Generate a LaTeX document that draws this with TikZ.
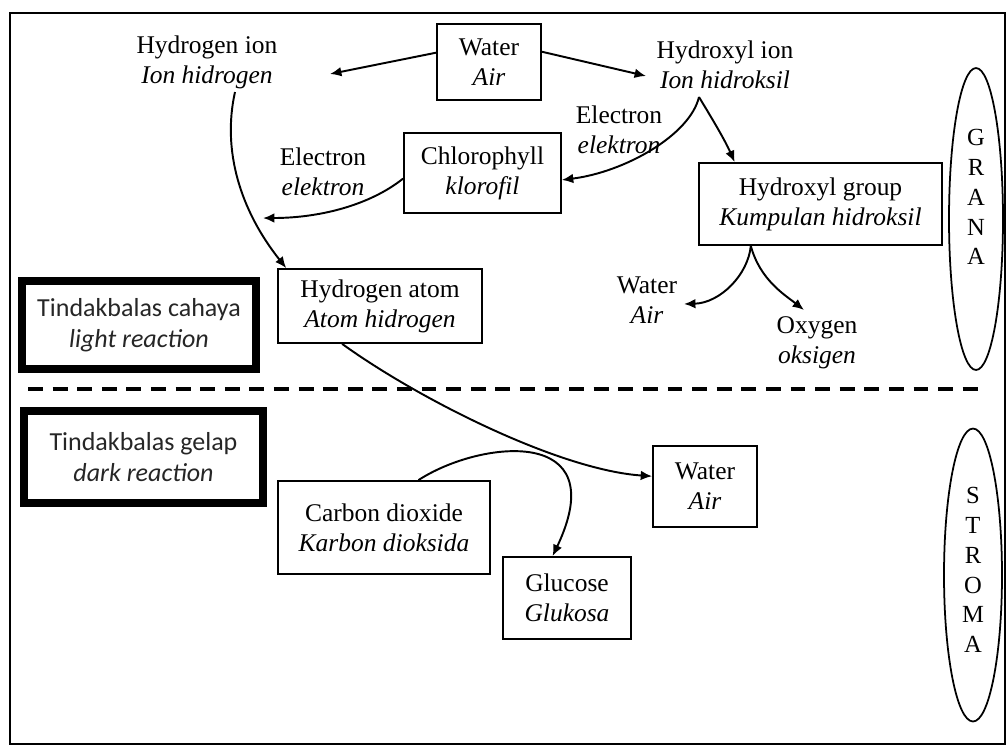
\documentclass[tikz,border=0pt]{standalone}
\usepackage{fontspec}
\setmainfont{Liberation Serif}
\newfontfamily\calibfont{Carlito}
\usetikzlibrary{arrows.meta,shapes.geometric}
\def\boxfont{\fontsize{14.5}{17}\selectfont}
\def\sidefont{\fontsize{14.8}{17.5}\selectfont\calibfont}

\begin{document}
\begin{tikzpicture}[
    x=0.02cm, y=-0.02cm,
    box/.style={draw, line width=1pt, align=center, font=\boxfont, inner sep=0pt},
    lbl/.style={align=center, font=\boxfont, inner sep=1pt},
    sidebox/.style={draw, line width=4.5pt, align=center, font=\sidefont, text=black!85, inner sep=0pt},
    oval/.style={draw, ellipse, line width=1pt, inner sep=0pt},
    letters/.style={align=center, font=\fontsize{14}{17}\selectfont},
    flow/.style={line width=1.1pt, -{Latex[length=6.5pt,width=5.5pt]}}
  ]
  \useasboundingbox (0,0) rectangle (1008,748);
  \draw[line width=1.2pt] (10,13) rectangle (1005,744);

  \node[box, minimum width=2.08cm, minimum height=1.52cm] (water) at (489,62) {Water\\\textit{Air}};
  \node[lbl] (hion) at (207,62) {Hydrogen ion\\\textit{Ion hidrogen}};
  \node[lbl] (ohion) at (725,65) {Hydroxyl ion\\\textit{Ion hidroksil}};
  \node[box, minimum width=3.14cm, minimum height=1.6cm] (chloro) at (482.5,173) {Chlorophyll\\\textit{klorofil}};
  \node[lbl] (eleft) at (323,172) {Electron\\\textit{elektron}};
  \node[lbl] (eright) at (619,130) {Electron\\\textit{elektron}};
  \node[box, minimum width=4.86cm, minimum height=1.64cm] (hgroup) at (820.5,204) {Hydroxyl group\\\textit{Kumpulan hidroksil}};
  \node[box, minimum width=4.08cm, minimum height=1.48cm] (hatom) at (380,306) {Hydrogen atom\\\textit{Atom hidrogen}};
  \node[lbl] (uwater) at (647,300) {Water\\\textit{Air}};
  \node[lbl] (oxygen) at (817,343) {Oxygen\\\textit{oksigen}};
  \node[sidebox, minimum width=4.68cm, minimum height=1.76cm] (light) at (139,325) {Tindakbalas cahaya\\\textit{light reaction}};
  \node[sidebox, minimum width=4.78cm, minimum height=1.84cm] (dark) at (143.5,457) {Tindakbalas gelap\\\textit{dark reaction}};
  \node[box, minimum width=2.08cm, minimum height=1.62cm] (lwater) at (705,486.5) {Water\\\textit{Air}};
  \node[box, minimum width=4.24cm, minimum height=1.86cm] (co2) at (384,527.5) {Carbon dioxide\\\textit{Karbon dioksida}};
  \node[box, minimum width=2.56cm, minimum height=1.64cm] (glucose) at (567,598) {Glucose\\\textit{Glukosa}};
  \node[oval, minimum width=1.08cm, minimum height=6.04cm] (grana) at (976,219) {};
  \node[letters] (granatxt) at (976,197) {G\\R\\A\\N\\A};
  \node[oval, minimum width=1.16cm, minimum height=5.86cm] (stroma) at (973,575) {};
  \node[letters] (stromatxt) at (973,570) {S\\T\\R\\O\\M\\A};

  \coordinate (hiontip) at (330,74);
  \coordinate (ohiontip) at (646,76);
  \coordinate (hionout) at (235,92);
  \coordinate (hjoin) at (263,218);
  \coordinate (ohsplit) at (699,97);
  \coordinate (uwatertip) at (684,304);
  \coordinate (oxytip) at (804,310);

  \draw[line width=2.3pt, dash pattern=on 8.5pt off 5.5pt] (28,389) -- (978,389);

  \draw[flow] (water.170) -- (hiontip);
  \draw[flow] (water.11) -- (ohiontip);
  \draw[flow] (hionout) .. controls (222,150) and (240,210) .. (hatom.158);
  \draw[flow] (chloro.184) .. controls (370,205) and (320,218) .. (hjoin);
  \draw[flow] (ohsplit) .. controls (690,135) and (625,172) .. (chloro.-5);
  \draw[flow] (ohsplit) .. controls (708,112) and (724,138) .. (hgroup.154);
  \draw[flow] (hgroup.211) .. controls (748,275) and (720,303) .. (uwatertip);
  \draw[flow] (hgroup.211) .. controls (760,280) and (785,295) .. (oxytip);
  \draw[flow] (hatom.225) .. controls (420,400) and (560,470) .. (lwater.169);
  \draw[flow] (co2.54) .. controls (480,440) and (615,425) .. (glucose.109);
\end{tikzpicture}
\end{document}
